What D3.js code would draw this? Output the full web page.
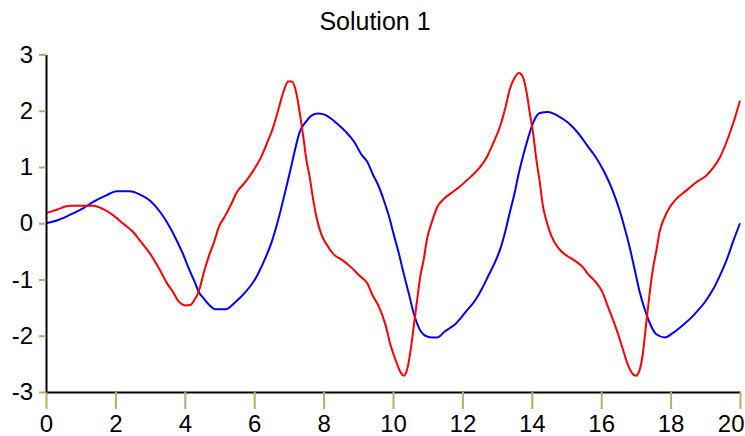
<!DOCTYPE html>
<html>
<head>
<meta charset="utf-8">
<script src="https://cdn.jsdelivr.net/npm/d3@7"></script>
<style>
  body { margin: 0; background: #fff; }
  svg { font-family: "Liberation Sans", Arial, sans-serif; }
  .axis path.domain { stroke: #000; stroke-width: 2px; }
  .axis .tick line { stroke: #bfa960; stroke-width: 2px; }
  .axis .tick text { font-size: 24px; fill: #000; }
  .series { fill: none; stroke-width: 2px; }
</style>
</head>
<body>
<div id="chart"></div>
<script>
"use strict";

var title = "Solution 1";
var xTicks = [0, 2, 4, 6, 8, 10, 12, 14, 16, 18, 20];
var yTicks = [-3, -2, -1, 0, 1, 2, 3];

// blue series, [t, value]
var blueData = [
  [0, 0], [0.31, 0.05], [0.69, 0.15], [1.08, 0.27], [1.36, 0.38], [1.75, 0.50],
  [2.04, 0.57], [2.42, 0.57], [2.71, 0.51], [3.0, 0.40], [3.29, 0.20], [3.57, -0.07],
  [3.77, -0.31], [3.93, -0.52], [4.12, -0.81], [4.27, -1.02], [4.41, -1.23], [4.55, -1.34],
  [4.70, -1.45], [4.89, -1.53], [5.17, -1.53], [5.46, -1.40], [5.74, -1.23], [6.03, -0.99],
  [6.27, -0.69], [6.50, -0.34], [6.70, 0.08], [6.89, 0.55], [7.03, 0.91], [7.17, 1.29],
  [7.31, 1.62], [7.50, 1.81], [7.64, 1.91], [7.84, 1.95], [7.98, 1.94], [8.17, 1.88],
  [8.41, 1.76], [8.65, 1.62], [8.89, 1.44], [9.08, 1.23], [9.27, 1.08], [9.41, 0.88],
  [9.60, 0.64], [9.74, 0.40], [9.89, 0.11], [10.03, -0.22], [10.17, -0.54], [10.31, -0.90],
  [10.46, -1.26], [10.60, -1.61], [10.74, -1.85], [10.93, -2.0], [11.12, -2.03], [11.27, -2.03],
  [11.50, -1.92], [11.80, -1.79], [12.09, -1.58], [12.37, -1.37], [12.56, -1.17], [12.75, -0.93],
  [12.94, -0.69], [13.09, -0.46], [13.23, -0.16], [13.37, 0.20], [13.51, 0.55], [13.61, 0.85],
  [13.75, 1.20], [13.90, 1.53], [14.04, 1.79], [14.23, 1.96], [14.47, 1.98], [14.75, 1.91],
  [15.04, 1.79], [15.34, 1.60], [15.60, 1.38], [15.85, 1.17], [16.09, 0.91], [16.33, 0.58],
  [16.52, 0.25], [16.67, -0.07], [16.81, -0.40], [16.96, -0.81], [17.10, -1.20], [17.25, -1.52],
  [17.39, -1.76], [17.58, -1.97], [17.83, -2.03], [18.07, -1.95], [18.36, -1.81], [18.70, -1.61],
  [18.99, -1.40], [19.23, -1.17], [19.42, -0.93], [19.61, -0.66], [19.81, -0.31], [20.0, 0]
];

// red series
var redData = [
  [0, 0.18], [0.31, 0.24], [0.69, 0.31], [1.08, 0.31], [1.36, 0.31], [1.65, 0.25],
  [1.94, 0.14], [2.23, -0.01], [2.52, -0.16], [2.71, -0.31], [3.0, -0.54], [3.29, -0.84],
  [3.48, -1.06], [3.67, -1.23], [3.81, -1.38], [4.03, -1.46], [4.17, -1.45], [4.27, -1.37],
  [4.41, -1.20], [4.55, -0.87], [4.70, -0.57], [4.84, -0.34], [4.98, -0.07], [5.17, 0.14],
  [5.36, 0.37], [5.50, 0.55], [5.74, 0.73], [5.98, 0.94], [6.17, 1.14], [6.36, 1.41],
  [6.55, 1.71], [6.70, 2.03], [6.84, 2.33], [6.98, 2.52], [7.08, 2.52], [7.22, 2.30],
  [7.31, 1.97], [7.41, 1.56], [7.50, 1.14], [7.60, 0.82], [7.70, 0.42], [7.79, 0.12],
  [7.93, -0.19], [8.08, -0.37], [8.27, -0.54], [8.55, -0.66], [8.79, -0.78], [9.03, -0.93],
  [9.27, -1.08], [9.41, -1.28], [9.60, -1.49], [9.79, -1.82], [9.93, -2.17], [10.08, -2.44],
  [10.22, -2.65], [10.31, -2.71], [10.41, -2.59], [10.50, -2.29], [10.60, -1.82], [10.70, -1.34],
  [10.79, -0.93], [10.89, -0.63], [10.98, -0.28], [11.12, 0.02], [11.27, 0.28], [11.46, 0.43],
  [11.71, 0.55], [11.90, 0.64], [12.23, 0.82], [12.47, 0.97], [12.70, 1.17], [12.90, 1.44],
  [13.09, 1.73], [13.23, 2.03], [13.37, 2.39], [13.51, 2.59], [13.63, 2.67], [13.75, 2.59],
  [13.85, 2.33], [13.94, 1.97], [14.04, 1.59], [14.13, 1.14], [14.23, 0.73], [14.32, 0.31],
  [14.42, 0.05], [14.56, -0.22], [14.75, -0.43], [14.99, -0.57], [15.23, -0.66], [15.47, -0.78],
  [15.63, -0.91], [15.85, -1.05], [16.04, -1.23], [16.18, -1.46], [16.33, -1.70], [16.47, -1.94],
  [16.62, -2.23], [16.76, -2.50], [16.91, -2.68], [17.00, -2.71], [17.10, -2.62], [17.20, -2.32],
  [17.29, -1.82], [17.39, -1.28], [17.49, -0.81], [17.58, -0.52], [17.68, -0.16], [17.83, 0.11],
  [17.97, 0.28], [18.16, 0.43], [18.45, 0.58], [18.74, 0.73], [19.03, 0.85], [19.23, 0.99],
  [19.42, 1.17], [19.61, 1.44], [19.81, 1.79], [20.0, 2.18]
];

function drawChart(w, h) {
  var left = 46, right = 740, top = 54.5, bottom = 392;

  var xScale = d3.scaleLinear().domain([0, 20]).range([left, right]);
  var yScale = d3.scaleLinear().domain([-3, 3]).range([bottom, top]);

  var svg = d3.select("#chart")
    .append("svg")
    .attr("width", w)
    .attr("height", h);

  //Title
  svg.append("text")
    .attr("x", 375)
    .attr("y", 30)
    .attr("text-anchor", "middle")
    .style("font-size", "25px")
    .text(title);

  var line = d3.line()
    .curve(d3.curveMonotoneX)
    .x(function (d) { return xScale(d[0]); })
    .y(function (d) { return yScale(d[1]); });

  svg.append("path")
    .datum(blueData)
    .attr("class", "series")
    .attr("stroke", "#0000ff")
    .attr("d", line);

  svg.append("path")
    .datum(redData)
    .attr("class", "series")
    .attr("stroke", "#ff0000")
    .attr("d", line);

  //Axes
  var xAxis = d3.axisBottom(xScale)
    .tickValues(xTicks)
    .tickSizeInner(17)
    .tickSizeOuter(0)
    .tickPadding(6)
    .tickFormat(function (d) { return String(d); });

  var yAxis = d3.axisLeft(yScale)
    .tickValues(yTicks)
    .tickSizeInner(7)
    .tickSizeOuter(0)
    .tickPadding(6)
    .tickFormat(function (d) { return String(d); });

  var gx = svg.append("g")
    .attr("class", "axis")
    .attr("transform", "translate(0," + bottom + ")")
    .call(xAxis);

  svg.append("g")
    .attr("class", "axis")
    .attr("transform", "translate(" + left + ",0)")
    .call(yAxis);

  svg.selectAll(".axis").attr("font-family", null).attr("font-size", null);

  //last label pulled in so it stays inside the window
  gx.selectAll(".tick text")
    .filter(function (d) { return d === 20; })
    .attr("text-anchor", "end")
    .attr("x", w - 1 - right);
}

drawChart(745, 436);
</script>
</body>
</html>
